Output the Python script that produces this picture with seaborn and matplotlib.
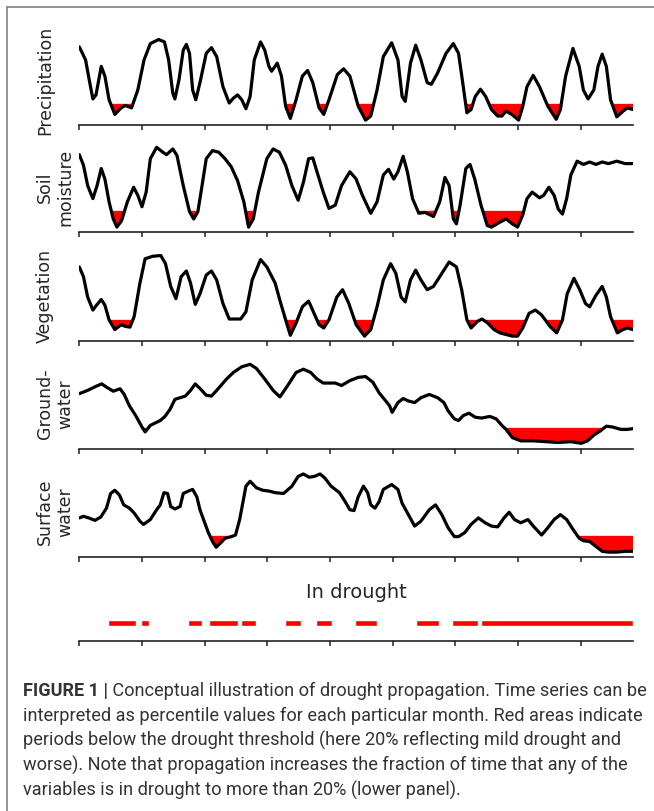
import numpy as np
import seaborn as sns
import matplotlib.pyplot as plt
from matplotlib.lines import Line2D

# values: month vs. percentile
threshold = 20

prec_m = [0, 1.2, 2.0, 2.6, 3.2, 4.2, 4.9, 5.7, 6.8, 8.0,
          8.8, 10.0, 11.2, 12.4, 13.6, 15.2, 16.3, 17.1, 17.9, 18.3,
          19.1, 19.9, 20.5, 21.1, 21.7, 22.3, 23.1, 24.3, 25.3, 26.3,
          27.5, 28.7, 29.5, 30.3, 31.1, 31.9, 32.7, 33.5, 34.7, 35.5,
          36.3, 36.8, 37.9, 38.7, 39.5, 40.4, 41.5, 42.7, 43.7, 44.7,
          45.9, 46.8, 47.8, 49.4, 50.6, 51.8, 53.4, 54.8, 55.8, 57.0,
          58.2, 59.8, 61.0, 61.8, 62.4, 63.4, 64.4, 65.4, 66.6, 67.4,
          68.6, 70.2, 71.6, 72.6, 73.4, 74.2, 75.0, 75.8, 76.8, 77.8,
          78.9, 80.1, 80.9, 81.7, 82.8, 84.1, 84.9, 85.7, 86.9, 88.1,
          89.7, 91.3, 92.1, 93.1, 94.5, 95.7, 96.5, 97.4, 98.5, 99.3,
          100.1, 100.9, 101.7, 102.9, 104.1, 104.9, 106]
prec_v = [90, 74, 46, 26, 31, 66, 54, 25, 7, 15,
          18, 15, 37, 74, 94, 99, 96, 74, 33, 26,
          50, 86, 93, 82, 37, 25, 46, 82, 89, 78,
          41, 21, 27, 31, 25, 14, 29, 74, 96, 86,
          66, 60, 70, 54, 17, 2, 25, 54, 61, 46,
          15, 7, 25, 56, 63, 54, 17, 0, 5, 37,
          78, 95, 74, 29, 23, 70, 92, 74, 46, 44,
          58, 82, 94, 82, 46, 9, 13, 29, 38, 29,
          13, 5, 5, 11, 7, 0, 17, 41, 55, 41,
          17, 1, 13, 54, 88, 66, 37, 26, 37, 66,
          81, 66, 25, 4, 11, 15, 13]

soil_m = [0, 0.8, 1.6, 2.6, 3.4, 4.2, 4.9, 5.7, 6.5, 7.2,
          8.1, 9.2, 10.4, 11.2, 12.0, 12.8, 13.6, 14.8, 16.0, 16.7,
          17.9, 18.7, 19.9, 21.1, 21.9, 22.7, 23.5, 24.3, 25.5, 26.7,
          27.9, 29.1, 30.3, 31.5, 32.4, 33.3, 34.3, 35.9, 37.1, 38.3,
          39.5, 40.7, 41.9, 42.9, 43.9, 44.7, 45.5, 46.7, 47.8, 49.0,
          50.2, 51.8, 53.0, 54.2, 55.8, 57.0, 58.2, 59.2, 60.2, 61.0,
          62.0, 62.8, 63.8, 65.0, 66.2, 67.8, 69.0, 70.0, 70.8, 71.6,
          72.2, 72.9, 74.0, 74.8, 75.7, 76.9, 78.1, 78.9, 80.5, 81.7,
          82.9, 83.9, 84.9, 85.7, 86.7, 88.1, 88.9, 89.9, 90.9, 91.7,
          92.5, 93.3, 94.1, 95.3, 96.5, 97.7, 98.9, 100.1, 101.3, 102.9,
          104.5, 106]
soil_v = [89, 76, 51, 35, 51, 72, 59, 31, 10, 0,
          8, 31, 49, 39, 25, 43, 84, 98, 92, 89,
          96, 88, 51, 19, 10, 19, 51, 84, 94, 92,
          84, 74, 57, 31, 0, 10, 43, 84, 96, 92,
          76, 51, 33, 55, 84, 85, 68, 43, 23, 27,
          51, 68, 59, 39, 17, 31, 64, 71, 59, 68,
          87, 68, 35, 17, 18, 13, 31, 61, 51, 10,
          4, 27, 72, 77, 59, 27, 2, 0, 6, 10,
          4, 0, 15, 35, 43, 36, 39, 49, 39, 22,
          16, 35, 64, 81, 77, 80, 77, 80, 78, 81,
          78, 78]

veg_m = [0, 0.8, 1.6, 2.6, 3.3, 4.2, 4.9, 5.7, 6.8, 8.0,
         8.8, 9.7, 10.5, 11.6, 12.6, 14.0, 15.6, 16.5, 17.5, 18.5,
         19.5, 20.5, 21.3, 22.2, 23.1, 24.3, 25.3, 26.3, 27.5, 28.7,
         29.9, 30.9, 31.9, 33.1, 34.7, 35.9, 37.5, 38.4, 39.5, 40.4,
         41.5, 42.7, 43.9, 44.8, 45.9, 46.8, 47.8, 49.3, 50.4, 51.6,
         53.0, 54.6, 55.8, 57.0, 58.2, 59.6, 60.6, 61.6, 62.4, 63.4,
         64.4, 65.4, 66.6, 67.8, 69.4, 70.8, 72.2, 73.2, 74.2, 75.0,
         76.2, 77.1, 78.2, 79.4, 80.5, 81.7, 82.9, 83.9, 84.9, 86.1,
         87.3, 88.5, 90.1, 91.4, 92.5, 93.4, 94.7, 95.8, 96.9, 97.7,
         98.9, 100.1, 100.9, 101.7, 103.0, 104.1, 104.9, 106]
veg_v = [85, 73, 48, 32, 38, 45, 38, 20, 8, 14,
         12, 11, 24, 65, 95, 98, 99, 89, 61, 46,
         73, 80, 65, 39, 52, 75, 80, 69, 40, 21,
         21, 21, 30, 69, 94, 85, 65, 44, 20, 1,
         16, 36, 43, 30, 14, 10, 20, 48, 57, 40,
         14, 0, 8, 36, 69, 89, 77, 48, 42, 69,
         81, 69, 57, 61, 77, 91, 85, 57, 20, 10,
         18, 21, 16, 8, 4, 2, 0, 0, 10, 28,
         32, 26, 12, 4, 20, 52, 71, 57, 40, 36,
         50, 61, 48, 24, 4, 8, 10, 8]

gw_m = [0, 1.6, 3.2, 4.3, 5.2, 6.5, 7.8, 8.6, 9.6, 10.8,
        12.0, 12.6, 13.6, 15.5, 16.4, 17.4, 18.3, 19.3, 20.3, 21.3,
        22.2, 23.3, 24.3, 25.3, 26.3, 28.2, 29.5, 31.1, 32.7, 33.9,
        35.5, 37.1, 38.4, 39.9, 41.5, 42.9, 44.3, 45.5, 46.7, 47.8,
        49.0, 50.2, 51.8, 53.4, 54.8, 56.2, 57.4, 58.8, 59.4, 59.9,
        61.0, 62.0, 63.0, 64.2, 65.4, 67.0, 68.6, 69.8, 70.6, 71.8,
        72.6, 73.5, 74.6, 75.8, 77.0, 78.6, 79.8, 80.9, 81.7, 82.9,
        84.5, 86.9, 89.3, 91.7, 94.1, 96.1, 97.3, 98.5, 99.7, 100.9,
        102.1, 103.7, 104.9, 106]
gw_v = [62, 66, 71, 74, 70, 65, 68, 61, 47, 35,
        21, 15, 23, 29, 34, 43, 55, 57, 59, 66,
        74, 67, 60, 59, 66, 80, 88, 95, 98, 93,
        80, 66, 58, 72, 88, 92, 88, 80, 75, 75,
        75, 72, 78, 82, 83, 76, 63, 52, 47, 39,
        51, 56, 53, 51, 57, 61, 57, 51, 41, 31,
        29, 35, 38, 33, 32, 34, 31, 23, 18, 8,
        4, 4, 3, 2, 3, 1, 4, 11, 16, 22,
        21, 18, 18, 19]

surf_m = [0, 0.8, 1.8, 3.0, 4.1, 5.2, 6.0, 6.8, 7.7, 8.5,
          9.6, 10.5, 11.6, 12.3, 13.6, 14.8, 15.5, 16.2, 16.9, 17.5,
          18.3, 19.3, 19.9, 20.9, 21.7, 22.5, 23.1, 23.9, 24.7, 25.5,
          26.2, 27.0, 27.9, 29.1, 29.9, 30.7, 31.9, 32.7, 33.9, 35.1,
          36.3, 37.5, 39.1, 40.7, 41.9, 42.9, 44.0, 45.0, 46.1, 47.0,
          48.2, 49.8, 50.9, 51.8, 52.6, 53.4, 54.4, 55.2, 55.8, 56.6,
          57.4, 58.2, 59.8, 61.0, 61.8, 63.0, 64.2, 65.4, 67.0, 68.2,
          69.4, 70.6, 71.8, 72.6, 73.8, 75.0, 76.4, 77.7, 78.9, 80.1,
          81.3, 82.3, 83.3, 84.5, 85.9, 86.9, 88.5, 89.7, 90.9, 92.1,
          93.3, 94.5, 95.7, 96.5, 97.7, 98.9, 100.1, 101.3, 102.9, 104.5,
          106]
surf_v = [42, 44, 42, 39, 43, 54, 72, 76, 70, 58,
          54, 48, 38, 34, 40, 52, 58, 73, 72, 56,
          53, 56, 72, 75, 77, 68, 52, 38, 24, 13,
          6, 11, 17, 19, 21, 40, 81, 87, 79, 76,
          75, 73, 72, 81, 93, 96, 92, 93, 96, 91,
          81, 73, 62, 52, 51, 68, 81, 73, 58, 54,
          62, 77, 83, 77, 60, 46, 32, 38, 52, 58,
          46, 30, 19, 19, 24, 34, 42, 36, 32, 31,
          42, 49, 40, 36, 40, 32, 21, 30, 40, 46,
          40, 28, 17, 14, 13, 7, 1, 0, 0, 1,
          1]

# periods where any variable is in drought (start, end month)
drought_start = [5.4, 11.8, 20.9, 24.8, 30.9, 39.3, 45.4, 52.8, 64.4, 71.4, 76.9]
drought_end = [10.8, 13.4, 23.4, 30.4, 33.8, 42.4, 48.4, 56.9, 68.8, 76.3, 106]

labels = ["Precipitation", "Soil\nmoisture", "Vegetation", "Ground-\nwater", "Surface\nwater"]
series = [(prec_m, prec_v), (soil_m, soil_v), (veg_m, veg_v), (gw_m, gw_v), (surf_m, surf_v)]

caption = [
    "interpreted as percentile values for each particular month. Red areas indicate",
    "periods below the drought threshold (here 20% reflecting mild drought and",
    "worse). Note that propagation increases the fraction of time that any of the",
    "variables is in drought to more than 20% (lower panel).",
]

sns.set_style("white")
plt.rcParams['font.family'] = ['DejaVu Sans']

W, H = 654, 812
fig = plt.figure(figsize=(W / 100, H / 100), dpi=100)

left = 79.3 / W
width = 553.7 / W
spine_px = [126, 233, 342, 450, 558]
ticks = list(range(0, 97, 12))


def style_axis(ax):
    for s in ["left", "top", "right"]:
        ax.spines[s].set_visible(False)
    ax.spines["bottom"].set_color("#222222")
    ax.spines["bottom"].set_linewidth(1.2)
    ax.set_xlim(0, 106)
    ax.set_xticks(ticks)
    ax.set_yticks([])
    ax.tick_params(axis="x", direction="out", length=3.8, width=1.1, color="#222222",
                   labelbottom=False, bottom=True)


for (mm, vv), lab, sp in zip(series, labels, spine_px):
    ax = fig.add_axes([left, 1 - sp / H, width, 92 / H])
    mm = np.array(mm)
    vv = np.array(vv)
    ax.fill_between(mm, vv, threshold, where=vv < threshold, interpolate=True,
                    color="#ff0000", lw=0, zorder=1)
    sns.lineplot(x=mm, y=vv, ax=ax, color="black", lw=2.3, zorder=2)
    ax.set_ylim(-6, 107)
    style_axis(ax)
    ax.set_xlabel("")
    ax.set_ylabel(lab, fontsize=12.5, va="top", ha="center", linespacing=1.15)
    ax.yaxis.set_label_coords((36 - 79.3) / 553.7, 0.5)

# lower panel: in drought
axd = fig.add_axes([left, 1 - 642 / H, width, 36 / H])
axd.broken_barh([(s, e - s) for s, e in zip(drought_start, drought_end)],
                (0.5 - 0.07, 0.14), facecolors="#ff0000")
axd.set_ylim(0, 1)
style_axis(axd)
axd.set_title("In drought", fontsize=14, pad=5.8)

# frame of the figure panel
fig.add_artist(Line2D([7 / W, 1], [1 - 8 / H, 1 - 8 / H], transform=fig.transFigure,
                      color="#808080", lw=1.2))
fig.add_artist(Line2D([7 / W, 7 / W], [0, 1 - 8 / H], transform=fig.transFigure,
                      color="#808080", lw=1.2))

# caption
cap_font = ["Roboto", "Liberation Sans", "DejaVu Sans"]
cap_col = "#333333"
x0 = 23 / W
base = [696, 721, 746, 771, 796]
fs = 12
t_bold = fig.text(x0, 1 - base[0] / H, "FIGURE 1 |", fontsize=fs, fontweight="bold",
                  family=cap_font, color=cap_col, va="baseline")
t_rest = fig.text(x0, 1 - base[0] / H, " Conceptual illustration of drought propagation. Time series can be",
                  fontsize=fs, family=cap_font, color=cap_col, va="baseline")
r = fig.canvas.get_renderer()
wb = t_bold.get_window_extent(r).width
wr = t_rest.get_window_extent(r).width
fs = fs * (645 - 23) / (wb + wr)
t_bold.set_fontsize(fs)
t_rest.set_fontsize(fs)
wb = t_bold.get_window_extent(r).width
t_rest.set_x(x0 + wb / W)
for line, b in zip(caption, base[1:]):
    fig.text(x0, 1 - b / H, line, fontsize=fs, family=cap_font, color=cap_col, va="baseline")

plt.savefig("out.png", dpi=100)
